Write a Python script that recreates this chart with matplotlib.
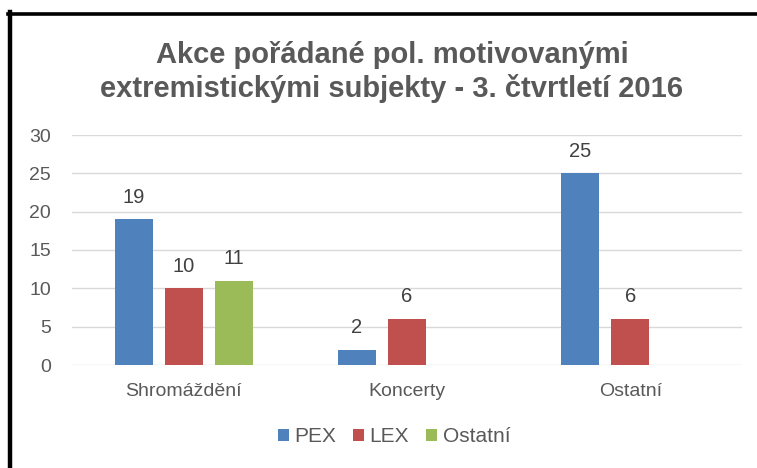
import numpy as np
import matplotlib.pyplot as plt
from matplotlib.lines import Line2D

categories = ["Shromáždění", "Koncerty", "Ostatní"]
series = ["PEX", "LEX", "Ostatní"]
pex = [19, 2, 25]
lex = [10, 6, 6]
ostatni = [11, 0, 0]
colors = ["#4F81BD", "#C0504D", "#9BBB59"]

plt.rcParams['font.family'] = ['Liberation Sans', 'DejaVu Sans']

fig = plt.figure(figsize=(7.57, 4.68), dpi=100)
W, H = 757, 468
# plot area in pixels: x 72..742, y 135..365
ax = fig.add_axes([72 / W, 1 - 365 / H, 670 / W, 230 / H])

x = np.arange(len(categories))
bw = 0.17
step = 0.224
data = [pex, lex, ostatni]
for i, (vals, col, name) in enumerate(zip(data, colors, series)):
    pos = x + (i - 1) * step
    ax.bar(pos, vals, width=bw, color=col, label=name, zorder=3)
    for p, v in zip(pos, vals):
        if v > 0:
            ax.annotate(str(v), (p, v), xytext=(0, 12), textcoords='offset points',
                        ha='center', va='baseline', fontsize=14.5, color='#404040')

ax.set_xlim(-0.5, 2.5)
ax.set_ylim(0, 30)
ax.set_yticks(range(0, 31, 5))
ax.set_xticks(x)
ax.set_xticklabels(categories, fontsize=14, color='#595959')
ax.tick_params(axis='y', labelsize=14, labelcolor='#595959', length=0, pad=15)
ax.tick_params(axis='x', length=0, pad=13)
ax.grid(axis='y', color='#D9D9D9', linewidth=1, zorder=0)
for s in ax.spines.values():
    s.set_visible(False)

fig.text(392 / W, 1 - 72 / H, "Akce pořádané pol. motivovanými\nextremistickými subjekty - 3. čtvrtletí 2016",
         ha='center', va='center', fontsize=21, fontweight='bold', color='#595959',
         linespacing=1.2)

fig.legend(loc='center', bbox_to_anchor=(394 / W, 1 - 437 / H), ncol=3, frameon=False,
           fontsize=15, handlelength=0.55, handleheight=0.55, handletextpad=0.25,
           columnspacing=0.8, labelcolor='#595959')

# black frame on left and top
fig.add_artist(Line2D([10 / W, 10 / W], [0, 1 - 12 / H], color='black', linewidth=3.2,
                      transform=fig.transFigure))
fig.add_artist(Line2D([8 / W, 1], [1 - 13.5 / H, 1 - 13.5 / H], color='black', linewidth=2.6,
                      transform=fig.transFigure))

fig.savefig("out.png", dpi=100)
